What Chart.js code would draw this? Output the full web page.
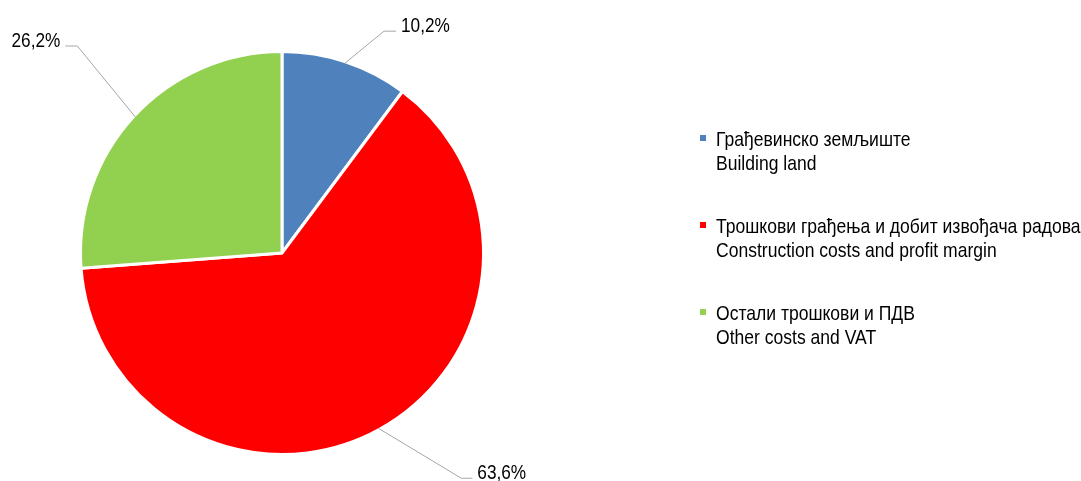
<!DOCTYPE html>
<html>
<head>
<meta charset="utf-8">
<script src="https://cdn.jsdelivr.net/npm/chart.js@4.4.1/dist/chart.umd.min.js"></script>
<style>
  html, body { margin: 0; padding: 0; background: #fff; }
  #wrap { width: 1081px; height: 481px; }
</style>
</head>
<body>
<div id="wrap"><canvas id="chart"></canvas></div>
<script>
// data
var labelsSr = ['Грађевинско земљиште', 'Трошкови грађења и добит извођача радова', 'Остали трошкови и ПДВ'];
var labelsEn = ['Building land', 'Construction costs and profit margin', 'Other costs and VAT'];
var shares = [10.2, 63.6, 26.2];
var colors = ['#4F81BD', '#FF0000', '#92D050'];

var FONT = '21px "Liberation Sans Narrow", "Arial Narrow", "Liberation Sans", Arial, sans-serif';
var BORDER = 3;

// leader line offsets from slice edge: elbow dx, dy, then horizontal run
var leaders = [
  { dx: 39, dy: -32, run: 12 },
  { dx: 83, dy: 50, run: 11 },
  { dx: -58, dy: -71, run: -12 }
];

// no narrow face installed, so squeeze the regular one
function narrowText(ctx, txt, x, y, align, sx) {
  ctx.save();
  ctx.translate(x, y);
  ctx.scale(sx, 1);
  ctx.textAlign = align;
  ctx.fillText(txt, 0, 0);
  ctx.restore();
}

var labelPlugin = {
  id: 'labelPlugin',
  afterDraw: function(chart) {
    var ctx = chart.ctx;
    var arcs = chart.getDatasetMeta(0).data;
    ctx.save();
    ctx.font = FONT;
    ctx.fillStyle = '#000';
    ctx.textBaseline = 'alphabetic';

    // data labels with leader lines
    arcs.forEach(function(arc, i) {
      var mid = (arc.startAngle + arc.endAngle) / 2;
      var r = arc.outerRadius - BORDER / 2;
      var x0 = arc.x + Math.cos(mid) * r;
      var y0 = arc.y + Math.sin(mid) * r;
      var L = leaders[i];
      var x1 = x0 + L.dx, y1 = y0 + L.dy;
      var x2 = x1 + L.run;
      ctx.strokeStyle = '#A6A6A6';
      ctx.lineWidth = 1;
      ctx.beginPath();
      ctx.moveTo(x0, y0);
      ctx.lineTo(x1, y1);
      ctx.lineTo(x2, y1);
      ctx.stroke();
      var txt = shares[i].toFixed(1).replace('.', ',') + '%';
      if (L.run > 0) {
        narrowText(ctx, txt, x2 + 5, y1 + 0.5, 'left', 0.82);
      } else {
        narrowText(ctx, txt, x2 - 5, y1 + 1, 'right', 0.82);
      }
    });

    // legend
    for (var i = 0; i < labelsSr.length; i++) {
      var y = 146 + i * 87;
      ctx.fillStyle = colors[i];
      ctx.fillRect(700, y - 11, 6, 6);
      ctx.fillStyle = '#000';
      narrowText(ctx, labelsSr[i], 716, y, 'left', 0.835);
      narrowText(ctx, labelsEn[i], 716, y + 23.5, 'left', 0.835);
    }
    ctx.restore();
  }
};

new Chart(document.getElementById('chart'), {
  type: 'pie',
  data: {
    labels: labelsSr,
    datasets: [{
      data: shares,
      backgroundColor: colors,
      borderColor: '#fff',
      borderWidth: BORDER
    }]
  },
  options: {
    responsive: true,
    maintainAspectRatio: false,
    animation: false,
    layout: { padding: { left: 79, right: 596, top: 50, bottom: 25 } },
    plugins: {
      legend: { display: false },
      tooltip: { enabled: false }
    }
  },
  plugins: [labelPlugin]
});
</script>
</body>
</html>
